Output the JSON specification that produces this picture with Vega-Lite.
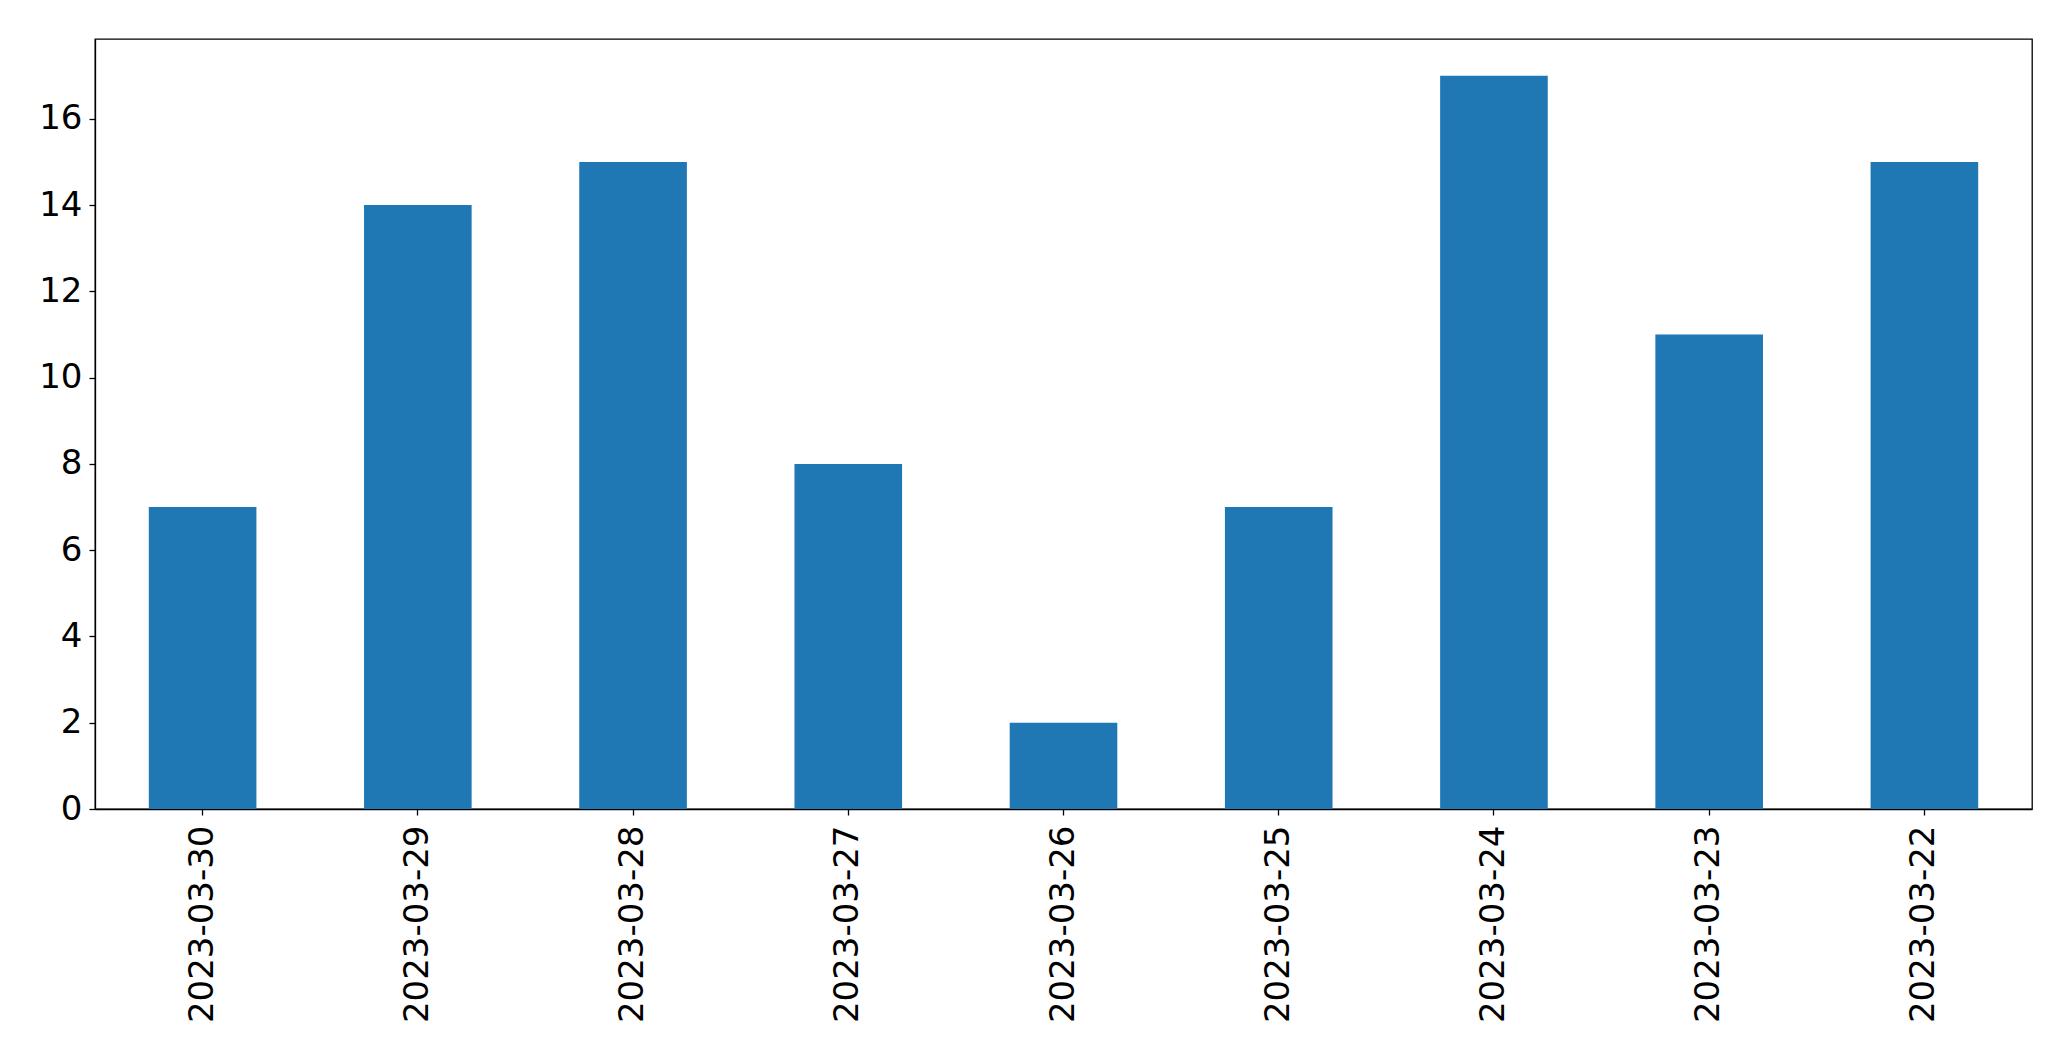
{
  "$schema": "https://vega.github.io/schema/vega-lite/v6.json",
  "width": 1937,
  "height": 770,
  "autosize": {"type": "none"},
  "padding": {"left": 95, "top": 39, "right": 39, "bottom": 252},
  "background": "white",
  "config": {
    "font": "DejaVu Sans",
    "view": {"stroke": "black", "strokeWidth": 1.3},
    "axis": {"grid": false, "domainColor": "black", "tickColor": "black", "labelColor": "black", "labelFont": "DejaVu Sans", "labelFontSize": 34, "labelLimit": 0, "tickSize": 6, "tickWidth": 1.3, "domainWidth": 1.3, "title": null}
  },
  "data": {
    "values": [
      {"date": "2023-03-30", "count": 7},
      {"date": "2023-03-29", "count": 14},
      {"date": "2023-03-28", "count": 15},
      {"date": "2023-03-27", "count": 8},
      {"date": "2023-03-26", "count": 2},
      {"date": "2023-03-25", "count": 7},
      {"date": "2023-03-24", "count": 17},
      {"date": "2023-03-23", "count": 11},
      {"date": "2023-03-22", "count": 15}
    ]
  },
  "mark": {"type": "bar", "color": "#1f77b4"},
  "encoding": {
    "x": {
      "field": "date", "type": "nominal", "sort": null,
      "scale": {"paddingInner": 0.5, "paddingOuter": 0.25},
      "axis": {"labelAngle": -90, "labelPadding": 10, "labelAlign": "right", "labelBaseline": "middle"}
    },
    "y": {
      "field": "count", "type": "quantitative",
      "scale": {"domain": [0, 17.85], "nice": false, "zero": true},
      "axis": {"values": [0, 2, 4, 6, 8, 10, 12, 14, 16], "labelPadding": 7}
    }
  }
}
